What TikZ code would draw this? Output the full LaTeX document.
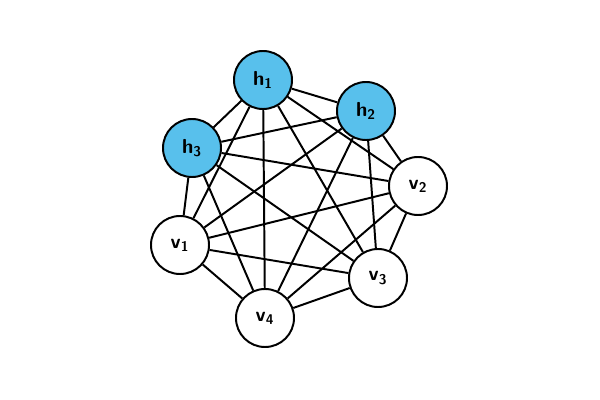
\documentclass[tikz,border=0pt]{standalone}
\definecolor{hiddenblue}{RGB}{88,192,236}
\begin{document}
\begin{tikzpicture}[
	x=0.025cm, y=-0.025cm,
	unit/.style   = {draw, circle, line width=1.4pt, minimum size=1.45cm, inner sep=0pt, font=\sffamily\bfseries\Large},
	hidden/.style = {unit, fill=hiddenblue},
	visible/.style= {unit, fill=white},
	link/.style   = {line width=1.4pt}]
	\useasboundingbox (0,0) rectangle (600,400);
	
	% units of the network
	\node[hidden]  (h1) at (263,80)  {h\textsubscript{1}};
	\node[hidden]  (h2) at (366,111) {h\textsubscript{2}};
	\node[hidden]  (h3) at (192,148) {h\textsubscript{3}};
	\node[visible] (v1) at (180,245) {v\textsubscript{1}};
	\node[visible] (v2) at (418,186) {v\textsubscript{2}};
	\node[visible] (v3) at (378,278) {v\textsubscript{3}};
	\node[visible] (v4) at (265,318) {v\textsubscript{4}};
	
	% every unit linked to every other one
	\foreach \a/\b in {h1/h2,h1/h3,h1/v1,h1/v2,h1/v3,h1/v4,
		h2/h3,h2/v1,h2/v2,h2/v3,h2/v4,
		h3/v1,h3/v2,h3/v3,h3/v4,
		v1/v2,v1/v3,v1/v4,
		v2/v3,v2/v4,
		v3/v4}
	\draw[link] (\a) -- (\b);
\end{tikzpicture}
\end{document}
